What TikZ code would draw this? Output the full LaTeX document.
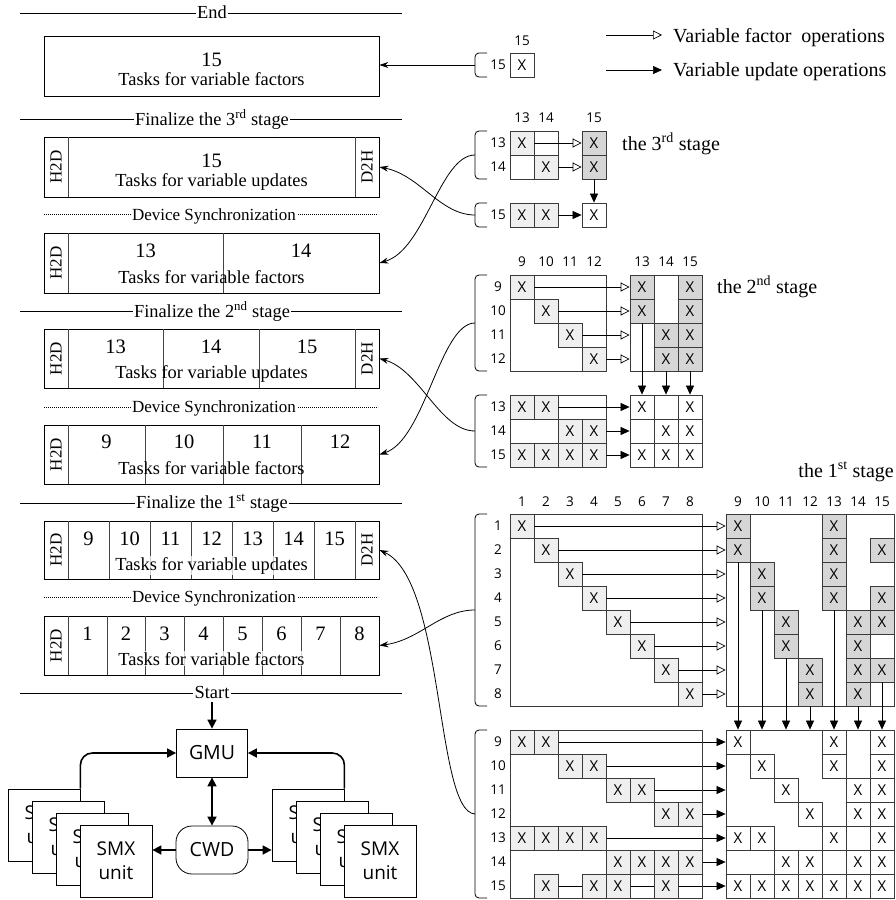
\documentclass[tikz,border=0pt]{standalone}
\usepackage{fontspec}
\setmainfont{Liberation Serif}
\newfontfamily\sansf{Open Sans}
\usetikzlibrary{arrows.meta}
\definecolor{lightc}{HTML}{EFEFEF}
\definecolor{darkc}{HTML}{D6D6D6}
\definecolor{edgec}{HTML}{3A3A3A}
\definecolor{divc}{HTML}{444444}
\pgfdeclarelayer{bg}
\pgfsetlayers{bg,main}
\newcommand\mybrack[3]{\draw[brk] (487,#1) -- (475,#1) -- (475,#2) -- (487,#2); \coordinate (#3) at (475,{(#1+#2)/2});}
\begin{document}
\begin{tikzpicture}[x=1pt,y=-1pt,
 serif/.style={font=\fontsize{18.4}{20}\selectfont, inner sep=0pt},
 smallser/.style={font=\fontsize{17}{19}\selectfont, inner sep=0pt},
 bigser/.style={font=\fontsize{20}{22}\selectfont, inner sep=0pt},
 lbl/.style={font=\sansf\fontsize{13.5}{15}\selectfont, inner sep=0pt},
 mcell/.style={draw=edgec, line width=0.8pt, minimum size=24pt, inner sep=0pt, font=\sansf\fontsize{15}{16}\selectfont},
 cellL/.style={mcell, fill=lightc},
 cellD/.style={mcell, fill=darkc},
 cellW/.style={mcell, fill=white},
 blk/.style={draw=edgec, line width=0.8pt, inner sep=0pt},
 fa/.style={-{Triangle[open,length=9pt,width=9pt]}, line width=0.7pt},
 ua/.style={-{Triangle[length=9pt,width=8pt]}, line width=0.7pt},
 conn/.style={-{Stealth[length=9pt,width=6pt]}, line width=0.8pt},
 brk/.style={line width=0.8pt, rounded corners=4pt},
 tbox/.style={draw, line width=0.8pt, minimum width=335pt, inner sep=0pt},
 divl/.style={line width=0.7pt, draw=divc},
 sepl/.style={line width=0.8pt},
 seplbl/.style={serif, fill=white, inner sep=1.5pt, anchor=base},
 dslbl/.style={smallser, fill=white, inner sep=1.5pt, anchor=base},
 dotl/.style={line width=0.7pt, dash pattern=on 0.8pt off 1.2pt},
 hd/.style={smallser, rotate=90},
 num/.style={font=\fontsize{20.5}{22}\selectfont, inner sep=0pt, anchor=base},
 tsk/.style={serif, anchor=base},
 thk/.style={line width=1.6pt, -{Triangle[length=9pt,width=9pt]}},
 smx/.style={draw, fill=white, line width=0.8pt, minimum width=72pt, minimum height=72pt, inner sep=0pt, align=center, font=\sansf\fontsize{19}{24}\selectfont},
]
\useasboundingbox (0,0) rectangle (895,900);

% ---------------- left panel ----------------
\draw[sepl] (20,13) -- (402,13);
\node[seplbl] (lEnd) at (212,18) {End};
\node[tbox, minimum height=60pt] (box1) at (211.5,66) {};
\node[num] (n1) at (211.5,66) {15};
\node[tsk] (t1) at (211.5,85) {Tasks for variable factors};

\draw[sepl] (20,119) -- (402,119);
\node[seplbl] (lF3) at (212,125) {Finalize the 3\textsuperscript{rd} stage};
\node[tbox, minimum height=60pt] (box2) at (211.5,167) {};
\draw[divl] (68,137) -- (68,197);
\draw[divl] (355,137) -- (355,197);
\node[hd] (h2) at (56,167) {H2D};
\node[hd] (d2) at (367,167) {D2H};
\node[num] (n2) at (211.5,167) {15};
\node[tsk] (t2) at (211.5,186) {Tasks for variable updates};
\draw[dotl] (44,214) -- (378,214);
\node[dslbl] (ds1) at (214,220) {Device Synchronization};

\node[tbox, minimum height=60pt] (box3) at (211.5,263) {};
\draw[divl] (68,233) -- (68,293);
\draw[divl] (223,233) -- (223,293);
\node[hd] (h3) at (56,263) {H2D};
\node[num] (n3a) at (145.5,257) {13};
\node[num] (n3b) at (301,257) {14};
\node[tsk] (t3) at (211.5,283) {Tasks for variable factors};

\draw[sepl] (20,311) -- (402,311);
\node[seplbl] (lF2) at (212,317) {Finalize the 2\textsuperscript{nd} stage};
\node[tbox, minimum height=59pt] (box4) at (211.5,358.5) {};
\foreach \xx in {68,163,259,355} \draw[divl] (\xx,329) -- (\xx,388);
\node[hd] (h4) at (56,358.5) {H2D};
\node[hd] (d4) at (367,358.5) {D2H};
\node[num] (n4a) at (115.5,353) {13};
\node[num] (n4b) at (211,353) {14};
\node[num] (n4c) at (307,353) {15};
\node[tsk] (t4) at (211.5,378) {Tasks for variable updates};
\draw[dotl] (44,407) -- (378,407);
\node[dslbl] (ds2) at (214,412) {Device Synchronization};

\node[tbox, minimum height=59pt] (box5) at (211.5,454.5) {};
\foreach \xx in {68,145,223,301} \draw[divl] (\xx,425) -- (\xx,484);
\node[hd] (h5) at (56,454.5) {H2D};
\node[num] (n5a) at (106.5,448) {9};
\node[num] (n5b) at (184,448) {10};
\node[num] (n5c) at (262,448) {11};
\node[num] (n5d) at (340,448) {12};
\node[tsk] (t5) at (211.5,474) {Tasks for variable factors};

\draw[sepl] (20,503) -- (402,503);
\node[seplbl] (lF1) at (212,508) {Finalize the 1\textsuperscript{st} stage};
\node[tbox, minimum height=58pt] (box6) at (211.5,550) {};
\foreach \xx in {68,109,150,191,232,273,314,355} \draw[divl] (\xx,521) -- (\xx,579);
\node[hd] (h6) at (56,550) {H2D};
\node[hd] (d6) at (367,550) {D2H};
\foreach \v/\xx in {9/88.5,10/129.5,11/170.5,12/211.5,13/252.5,14/293.5,15/334.5}
  \node[num] (n6-\v) at (\xx,545) {\v};
\node[tsk, fill=white, fill opacity=0.75, text opacity=1, inner sep=1pt] (t6) at (211.5,570) {Tasks for variable updates};
\draw[dotl] (44,597) -- (378,597);
\node[dslbl] (ds3) at (214,602) {Device Synchronization};

\node[tbox, minimum height=59pt] (box7) at (211.5,645.5) {};
\foreach \xx in {68,107,145,184,223,262,301,340} \draw[divl] (\xx,616) -- (\xx,675);
\node[hd] (h7) at (56,645.5) {H2D};
\foreach \v/\xx in {1/87.5,2/126,3/164.5,4/203.5,5/242.5,6/281.5,7/320.5,8/359.5}
  \node[num] (n7-\v) at (\xx,640) {\v};
\node[tsk, fill=white, fill opacity=0.75, text opacity=1, inner sep=1pt] (t7) at (211.5,665) {Tasks for variable factors};

\draw[sepl] (20,693) -- (402,693);
\node[seplbl] (lSt) at (212,698) {Start};

% ---------------- GPU ----------------
\node[draw, line width=0.8pt, minimum width=71pt, minimum height=48pt, inner sep=0pt, font=\sansf\fontsize{19.5}{22}\selectfont] (gmu) at (212,753) {GMU};
\node[draw, line width=0.8pt, rounded corners=16pt, minimum width=72pt, minimum height=48pt, inner sep=0pt, font=\sansf\fontsize{19.5}{22}\selectfont] (cwd) at (212,850) {CWD};
\coordinate (stp) at (212,702);
\draw[thk] (stp) -- (gmu.north);
\draw[thk, {Triangle[length=9pt,width=9pt]}-{Triangle[length=9pt,width=9pt]}] (gmu.south) -- (cwd.north);
\foreach \k in {0,...,3} \node[smx] (sl\k) at ({44+24*\k},{825+12*\k}) {SMX\\unit};
\foreach \k in {0,...,3} \node[smx] (sr\k) at ({308+24*\k},{825+12*\k}) {SMX\\unit};
\begin{pgfonlayer}{bg}
\draw[thk, rounded corners=12pt] (sl0.north east) |- (gmu.west);
\draw[thk, rounded corners=12pt] (sr0.north east) |- (gmu.east);
\end{pgfonlayer}
\draw[thk] (cwd.west) -- (cwd.west -| sl3.east);
\draw[thk] (cwd.east) -- (cwd.east -| sr0.west);

% ---------------- legend ----------------
\coordinate (lg1a) at (606,35); \coordinate (lg1b) at (662,35);
\draw[fa] (lg1a) -- (lg1b);
\node[bigser, anchor=base west] (lg1) at (673,42) {Variable factor~ operations};
\coordinate (lg2a) at (606,70); \coordinate (lg2b) at (662,70);
\draw[ua] (lg2a) -- (lg2b);
\node[bigser, anchor=base west] (lg2) at (673,76) {Variable update operations};

% ---------------- final ----------------
\node[lbl] (fc15) at (522,41) {15};
\node[lbl] (fr15) at (498,65) {15};
\node[cellW] (f15) at (522,65) {X};
\mybrack{53}{77}{bF}
\draw[conn] (bF) -- (bF -| box1.east);

% ---------------- 3rd stage ----------------
\node[lbl] (s3c13) at (522,118) {13};
\node[lbl] (s3c14) at (546,118) {14};
\node[lbl] (s3c15) at (594,118) {15};
\node[lbl] (s3r13) at (498,143) {13};
\node[lbl] (s3r14) at (498,167) {14};
\node[lbl] (s3r15) at (498,215) {15};
\node[blk, minimum width=48pt, minimum height=48pt] (s3L) at (534,155) {};
\node[cellL] (s3a) at (522,143) {X};
\node[cellL] (s3b) at (546,167) {X};
\node[cellD] (s3c) at (594,143) {X};
\node[cellD] (s3d) at (594,167) {X};
\node[cellL] (s3e) at (522,215) {X};
\node[cellL] (s3f) at (546,215) {X};
\node[cellW] (s3g) at (594,215) {X};
\draw[fa] (s3a.east) -- (s3c.west);
\draw[fa] (s3b.east) -- (s3d.west);
\draw[ua] (s3f.east) -- (s3g.west);
\draw[ua] (s3d.south) -- (s3g.north);
\mybrack{131}{179}{b3u}
\mybrack{203}{227}{b3l}
\node[bigser, anchor=base west] (st3) at (622,150) {the 3\textsuperscript{rd} stage};

% ---------------- 2nd stage ----------------
\foreach \c/\xx in {9/522,10/546,11/570,12/594,13/642,14/666,15/690} \node[lbl] (m2c\c) at (\xx,262) {\c};
\foreach \r/\yy in {9/287,10/311,11/335,12/359,13/407,14/431,15/455} \node[lbl] (m2r\r) at (498,\yy) {\r};
\node[blk, minimum width=96pt, minimum height=96pt] (U2L) at (558,323) {};
\node[blk, minimum width=72pt, minimum height=96pt] (U2R) at (666,323) {};
\node[blk, minimum width=96pt, minimum height=72pt] (L2L) at (558,431) {};
\node[blk, minimum width=72pt, minimum height=72pt] (L2R) at (666,431) {};
\foreach \r in {9,...,12} \node[cellL] (m\r-\r) at ({522+24*(\r-9)},{287+24*(\r-9)}) {X};
\foreach \r/\c in {9/13,9/15,10/13,10/15,11/14,11/15,12/14,12/15}
  \node[cellD] (m\r-\c) at ({642+24*(\c-13)},{287+24*(\r-9)}) {X};
\foreach \r/\c in {13/9,13/10,14/11,14/12,15/9,15/10,15/11,15/12}
  \node[cellL] (m\r-\c) at ({522+24*(\c-9)},{407+24*(\r-13)}) {X};
\foreach \r/\c in {13/13,13/15,14/14,14/15,15/13,15/14,15/15}
  \node[cellW] (m\r-\c) at ({642+24*(\c-13)},{407+24*(\r-13)}) {X};
\foreach \r in {9,...,12} \draw[fa] (m\r-\r.east) -- (m\r-\r.east -| U2R.west);
\foreach \r/\c in {10/13,12/14,12/15} \draw[ua] (m\r-\c.south) -- (m\r-\c.south |- L2R.north);
\foreach \r/\c in {13/10,14/12,15/12} \draw[ua] (m\r-\c.east) -- (m\r-\c.east -| L2R.west);
\mybrack{275}{371}{b2u}
\mybrack{395}{467}{b2l}
\node[bigser, anchor=base west] (st2) at (717,293) {the 2\textsuperscript{nd} stage};

% ---------------- 1st stage ----------------
\node[bigser, anchor=base east] (st1) at (894,477) {the 1\textsuperscript{st} stage};
\foreach \c in {1,...,8} \node[lbl] (p1c\c) at ({522+24*(\c-1)},502) {\c};
\foreach \c in {9,...,15} \node[lbl] (p1c\c) at ({738+24*(\c-9)},502) {\c};
\foreach \r in {1,...,8} \node[lbl] (p1r\r) at (498,{526+24*(\r-1)}) {\r};
\foreach \r in {9,...,15} \node[lbl] (p1r\r) at (498,{742+24*(\r-9)}) {\r};
\node[blk, minimum width=192pt, minimum height=192pt] (U1L) at (606,610) {};
\node[blk, minimum width=168pt, minimum height=192pt] (U1R) at (810,610) {};
\node[blk, minimum width=192pt, minimum height=168pt] (L1L) at (606,814) {};
\node[blk, minimum width=168pt, minimum height=168pt] (L1R) at (810,814) {};
\foreach \r in {1,...,8} \node[cellL] (p\r-\r) at ({522+24*(\r-1)},{526+24*(\r-1)}) {X};
\foreach \r/\c in {1/9,1/13,2/9,2/13,2/15,3/10,3/13,4/10,4/13,4/15,5/11,5/14,5/15,6/11,6/14,7/12,7/14,7/15,8/12,8/14}
  \node[cellD] (p\r-\c) at ({738+24*(\c-9)},{526+24*(\r-1)}) {X};
\foreach \r/\c in {9/1,9/2,10/3,10/4,11/5,11/6,12/7,12/8,13/1,13/2,13/3,13/4,14/5,14/6,14/7,14/8,15/2,15/4,15/5,15/7}
  \node[cellL] (p\r-\c) at ({522+24*(\c-1)},{742+24*(\r-9)}) {X};
\foreach \r/\c in {9/9,9/13,9/15,10/10,10/13,10/15,11/11,11/14,11/15,12/12,12/14,12/15,13/9,13/10,13/13,13/15,14/11,14/12,14/14,14/15,15/9,15/10,15/11,15/12,15/13,15/14,15/15}
  \node[cellW] (p\r-\c) at ({738+24*(\c-9)},{742+24*(\r-9)}) {X};
\foreach \r in {1,...,8} \draw[fa] (p\r-\r.east) -- (p\r-\r.east -| U1R.west);
\foreach \r/\c in {2/9,4/10,6/11,8/12,4/13,8/14,7/15} \draw[ua] (p\r-\c.south) -- (p\r-\c.south |- L1R.north);
\begin{pgfonlayer}{bg}
\foreach \r/\c in {9/2,10/4,11/6,12/8,13/4,14/8,15/2} \draw[ua] (p\r-\c.east) -- (p\r-\c.east -| L1R.west);
\end{pgfonlayer}
\mybrack{514}{706}{b1u}
\mybrack{730}{898}{b1l}

% ---------------- connectors to the task boxes ----------------
\draw[conn] (b3u) .. controls (440,155) and (425,250) .. (box3.east);
\draw[conn] (b3l) .. controls (440,215) and (420,175) .. (box2.east);
\draw[conn] (b2u) .. controls (440,323) and (425,440) .. (box5.east);
\draw[conn] (b2l) .. controls (440,431) and (420,370) .. (box4.east);
\draw[conn] (b1u) .. controls (440,610) and (420,640) .. (box7.east);
\draw[conn] (b1l) .. controls (435,812) and (445,580) .. (box6.east);
\end{tikzpicture}
\end{document}
